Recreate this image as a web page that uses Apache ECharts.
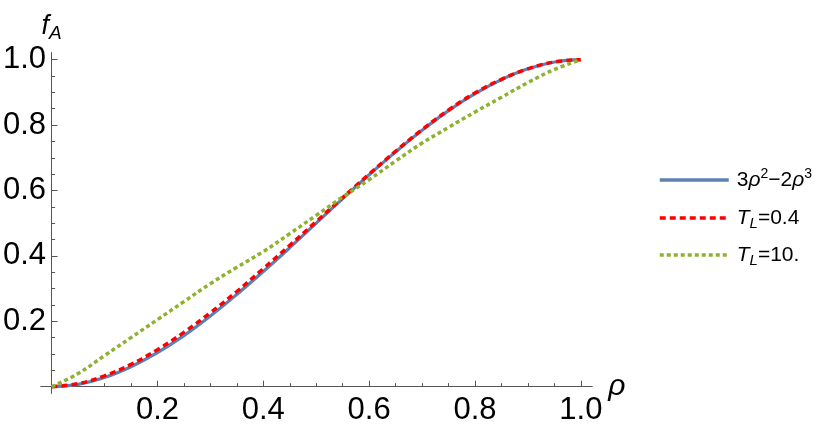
<!DOCTYPE html>
<html>
<head>
<meta charset="utf-8">
<script src="https://cdn.jsdelivr.net/npm/echarts@6/dist/echarts.min.js"></script>
<style>
html,body{margin:0;padding:0;background:#fff;}
#chart{width:830px;height:432px;}
</style>
</head>
<body>
<div id="chart"></div>
<script>
// ---- data ----
const rho = [0, 0.05, 0.1, 0.15, 0.2, 0.25, 0.3, 0.35, 0.4, 0.45, 0.5, 0.55, 0.6, 0.65, 0.7, 0.75, 0.8, 0.85, 0.9, 0.95, 1.0];
const cubicVals = [0, 0.007, 0.028, 0.061, 0.104, 0.156, 0.216, 0.282, 0.352, 0.425, 0.5, 0.575, 0.648, 0.718, 0.784, 0.844, 0.896, 0.939, 0.972, 0.993, 1.0];
const tl04Vals  = [0, 0.009, 0.033, 0.068, 0.113, 0.166, 0.226, 0.291, 0.361, 0.432, 0.505, 0.578, 0.650, 0.720, 0.786, 0.846, 0.898, 0.940, 0.972, 0.993, 1.0];
const tl10Vals  = [0, 0.040, 0.095, 0.150, 0.205, 0.260, 0.315, 0.365, 0.413, 0.468, 0.524, 0.580, 0.633, 0.690, 0.745, 0.793, 0.840, 0.885, 0.930, 0.970, 1.0];
const seriesNames = ['3ρ²−2ρ³', 'T_L=0.4', 'T_L=10.'];
const legendRich = ['{n|3}{i|ρ}{sup|2}{n|−2}{i|ρ}{sup|3}', '{i|T}{sub|L}{n|=0.4}', '{i|T}{sub|L}{n|=10.}'];
const majorTicks = [0.2, 0.4, 0.6, 0.8, 1.0];
const minorTicks = [0.05, 0.1, 0.15, 0.25, 0.3, 0.35, 0.45, 0.5, 0.55, 0.65, 0.7, 0.75, 0.85, 0.9, 0.95];
const tickLabels = ['0.2', '0.4', '0.6', '0.8', '1.0'];

const FONT = 'Liberation Sans';
const AXIS_COLOR = '#555';
const pairs = vals => rho.map((r, i) => [r, vals[i]]);

function labelFor(v) {
  const i = majorTicks.findIndex(t => Math.abs(t - v) < 1e-6);
  return i >= 0 ? tickLabels[i] : '';
}

const baseAxis = {
  type: 'value',
  min: -0.02,
  max: 1.021,
  splitLine: { show: false },
  axisLine: { show: true, onZero: true, lineStyle: { color: AXIS_COLOR, width: 1 } }
};

function majorAxis(extra) {
  return Object.assign({}, baseAxis, {
    axisTick: { show: true, inside: true, length: 6, customValues: majorTicks, lineStyle: { color: AXIS_COLOR } }
  }, extra);
}
function minorAxis(extra) {
  return Object.assign({}, baseAxis, {
    axisTick: { show: true, inside: true, length: 3.5, customValues: minorTicks, lineStyle: { color: AXIS_COLOR } },
    axisLabel: { show: false }
  }, extra);
}

const richLegend = {
  n:   { fontFamily: FONT, fontSize: 21, color: '#000', lineHeight: 26 },
  i:   { fontFamily: FONT, fontSize: 21, fontStyle: 'italic', color: '#000', lineHeight: 26 },
  sup: { fontFamily: FONT, fontSize: 14, color: '#000', lineHeight: 16, verticalAlign: 'top' },
  sub: { fontFamily: FONT, fontSize: 15, fontStyle: 'italic', color: '#000', lineHeight: 18, verticalAlign: 'bottom' }
};

const legendTops = [162, 200, 237];
const legends = seriesNames.map((nm, k) => ({
  orient: 'vertical',
  left: 653,
  top: legendTops[k],
  itemWidth: 69,
  itemHeight: 14,
  data: [nm],
  formatter: name => legendRich[seriesNames.indexOf(name)],
  itemStyle: { color: 'transparent', borderColor: 'transparent', borderWidth: 0, opacity: 0 },
  lineStyle: { width: 3.5 },
  textStyle: { padding: [0, 0, 0, 3], height: 26, lineHeight: 26, rich: richLegend }
}));

const chart = echarts.init(document.getElementById('chart'), null, { renderer: 'canvas' });
chart.setOption({
  animation: false,
  backgroundColor: '#fff',
  grid: { left: 41, right: 238, top: 52.8, bottom: 38.8, containLabel: false, outerBoundsMode: 'none' },
  xAxis: [
    majorAxis({
      position: 'bottom',
      axisLabel: { show: true, customValues: majorTicks, formatter: labelFor, fontFamily: FONT, fontSize: 31, color: '#000', margin: 2 },
      name: 'ρ',
      nameLocation: 'end',
      nameGap: 11,
      nameTextStyle: { fontFamily: FONT, fontSize: 30, fontStyle: 'italic', color: '#000', align: 'left', verticalAlign: 'middle', padding: [10, 0, 0, 0] }
    }),
    minorAxis({ position: 'bottom' })
  ],
  yAxis: [
    majorAxis({
      position: 'left',
      axisLabel: { show: true, customValues: majorTicks, formatter: labelFor, fontFamily: FONT, fontSize: 31, color: '#000', margin: -5 },
      name: '{f|f}{a|A}',
      nameLocation: 'end',
      nameGap: 10,
      nameTextStyle: {
        rich: {
          f: { fontFamily: FONT, fontSize: 27, fontStyle: 'italic', color: '#000', lineHeight: 32 },
          a: { fontFamily: FONT, fontSize: 19, fontStyle: 'italic', color: '#000', lineHeight: 16, verticalAlign: 'bottom' }
        }
      }
    }),
    minorAxis({ position: 'left' })
  ],
  legend: legends,
  series: [
    {
      name: seriesNames[0], type: 'line', data: pairs(cubicVals),
      xAxisIndex: 0, yAxisIndex: 0,
      showSymbol: false, symbol: 'none', smooth: 0.4,
      lineStyle: { color: '#5E81B5', width: 3.2 }, itemStyle: { color: '#5E81B5' }
    },
    {
      name: seriesNames[1], type: 'line', data: pairs(tl04Vals),
      xAxisIndex: 0, yAxisIndex: 0,
      showSymbol: false, symbol: 'none', smooth: 0.4,
      lineStyle: { color: '#FF0000', width: 3.5, type: [6, 4] }, itemStyle: { color: '#FF0000' }
    },
    {
      name: seriesNames[2], type: 'line', data: pairs(tl10Vals),
      xAxisIndex: 0, yAxisIndex: 0,
      showSymbol: false, symbol: 'none', smooth: 0.4,
      lineStyle: { color: '#8FB131', width: 3.5, type: [4, 3] }, itemStyle: { color: '#8FB131' }
    }
  ]
});
</script>
</body>
</html>
